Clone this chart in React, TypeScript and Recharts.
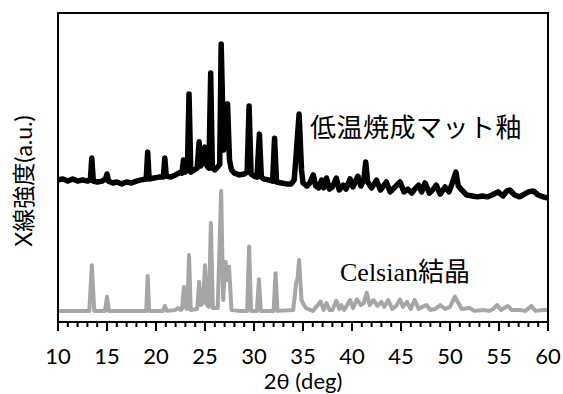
import { LineChart, Line, XAxis, YAxis } from 'recharts'

// 2θ (deg), intensity (a.u.)
const glazePattern: [number, number][] = [
  [10.0, 46.0], [10.5, 46.3], [11.0, 45.6], [11.5, 46.3], [12.0, 45.6], [12.5, 46.0],
  [13.0, 45.6], [13.3, 46.0], [13.45, 53.1], [13.6, 45.6], [14.0, 45.3], [14.5, 45.6],
  [14.85, 46.3], [15.0, 47.9], [15.15, 45.6], [15.6, 45.0], [16.0, 45.3], [16.5, 44.7],
  [17.0, 45.3], [17.5, 45.0], [18.0, 45.6], [18.5, 46.0], [19.0, 46.3], [19.15, 55.0],
  [19.3, 46.3], [19.8, 46.6], [20.3, 46.9], [20.75, 46.9], [20.9, 53.1], [21.05, 47.2],
  [21.5, 46.9], [22.0, 47.6], [22.5, 48.5], [22.65, 48.2], [22.8, 52.4], [22.95, 48.5],
  [23.2, 49.2], [23.37, 73.8], [23.55, 48.5], [23.9, 49.2], [24.2, 49.8], [24.4, 58.3],
  [24.55, 50.5], [24.8, 51.8], [25.0, 56.6], [25.2, 50.5], [25.4, 49.8], [25.58, 80.6],
  [25.75, 49.8], [26.0, 49.2], [26.3, 50.2], [26.5, 51.0], [26.65, 90.0], [26.9, 55.7],
  [27.05, 69.3], [27.3, 70.6], [27.5, 52.4], [27.7, 49.2], [28.0, 48.2], [28.5, 47.6],
  [29.0, 47.9], [29.3, 48.5], [29.5, 69.9], [29.7, 47.9], [30.0, 47.2], [30.3, 46.9],
  [30.55, 60.8], [30.75, 46.9], [31.0, 46.3], [31.5, 46.0], [31.9, 45.6], [32.1, 59.5],
  [32.3, 45.3], [32.8, 45.0], [33.3, 44.7], [33.8, 44.7], [34.1, 46.0], [34.3, 54.0],
  [34.6, 67.3], [34.85, 49.2], [35.0, 45.0], [35.4, 44.0], [35.7, 45.0], [36.05, 47.6],
  [36.3, 44.0], [36.6, 43.4], [36.9, 45.9], [37.1, 43.4], [37.4, 46.6], [37.7, 43.0],
  [38.0, 43.7], [38.4, 46.6], [38.7, 42.7], [39.1, 44.3], [39.4, 43.0], [39.8, 46.3],
  [40.1, 43.7], [40.6, 47.2], [40.9, 44.0], [41.2, 45.9], [41.4, 51.8], [41.6, 45.3],
  [42.0, 43.4], [42.5, 45.9], [42.9, 42.7], [43.2, 44.0], [43.5, 45.3], [43.9, 42.1],
  [44.3, 43.4], [44.9, 45.3], [45.3, 42.1], [45.7, 43.0], [46.1, 41.7], [46.4, 43.0],
  [46.8, 44.3], [47.1, 42.1], [47.45, 45.0], [47.9, 41.7], [48.3, 43.0], [48.6, 44.3],
  [49.0, 41.4], [49.5, 43.7], [49.9, 42.1], [50.2, 44.7], [50.6, 48.5], [50.85, 44.0],
  [51.2, 42.7], [51.7, 41.1], [52.3, 40.8], [52.8, 40.5], [53.3, 40.8], [53.8, 40.5],
  [54.3, 41.1], [54.9, 42.1], [55.4, 40.8], [55.8, 42.4], [56.1, 42.7], [56.6, 41.1],
  [57.1, 40.5], [57.6, 41.4], [58.0, 42.1], [58.5, 42.4], [59.0, 41.1], [59.5, 40.5],
  [60.0, 40.1],
]

const celsianPattern: [number, number][] = [
  [10.0, 3.6], [13.2, 3.6], [13.45, 18.4], [13.7, 3.6], [14.8, 3.6], [15.0, 8.2],
  [15.2, 3.6], [19.0, 3.6], [19.15, 14.9], [19.3, 3.6], [20.7, 3.6], [20.9, 5.2],
  [21.1, 3.6], [22.0, 3.9], [22.25, 4.5], [22.5, 3.9], [22.65, 4.2], [22.85, 11.3],
  [23.05, 4.5], [23.2, 4.2], [23.37, 21.7], [23.55, 3.9], [24.2, 4.2], [24.4, 13.0],
  [24.6, 5.5], [24.8, 6.1], [25.0, 18.4], [25.2, 5.5], [25.4, 4.9], [25.6, 32.0],
  [25.8, 4.5], [26.3, 4.5], [26.65, 42.4], [26.85, 7.1], [27.1, 19.5], [27.28, 13.6],
  [27.45, 17.9], [27.7, 3.9], [28.5, 3.6], [29.3, 3.6], [29.5, 24.4], [29.7, 3.6],
  [30.3, 3.6], [30.5, 13.8], [30.7, 3.6], [32.0, 3.6], [32.2, 15.8], [32.4, 3.6],
  [34.0, 3.9], [34.3, 12.6], [34.45, 14.2], [34.6, 20.1], [34.85, 7.1], [35.0, 6.1],
  [35.3, 4.5], [36.0, 3.6], [36.8, 6.6], [37.1, 3.9], [37.4, 6.1], [37.7, 3.9],
  [38.0, 3.9], [38.4, 6.9], [38.7, 4.2], [38.9, 5.5], [39.2, 3.9], [39.8, 7.1],
  [40.1, 4.5], [40.5, 7.3], [40.9, 5.5], [41.2, 6.1], [41.5, 9.5], [41.8, 5.5],
  [42.2, 7.1], [42.6, 5.2], [43.0, 6.5], [43.3, 4.9], [43.7, 7.1], [44.1, 4.2],
  [44.5, 5.2], [44.9, 7.3], [45.2, 4.9], [45.6, 6.5], [46.0, 4.2], [46.4, 7.1],
  [46.8, 4.2], [47.2, 4.9], [47.6, 5.5], [48.0, 3.9], [48.5, 4.2], [49.0, 5.5],
  [49.5, 4.2], [50.0, 4.9], [50.5, 8.2], [50.8, 6.5], [51.2, 4.2], [52.0, 4.5],
  [52.5, 3.6], [53.4, 3.9], [54.0, 3.6], [54.4, 4.2], [54.8, 5.5], [55.2, 3.9],
  [55.9, 5.2], [56.3, 3.9], [57.1, 3.9], [57.7, 3.6], [58.3, 5.2], [58.7, 3.6],
  [59.5, 3.9], [60.0, 3.9],
]

const majorTicks = [10, 15, 20, 25, 30, 35, 40, 45, 50, 55, 60]
const allTicks = Array.from({ length: 51 }, (_, i) => 10 + i)

const glazeData = glazePattern.map(([theta, intensity]) => ({ theta, intensity }))
const celsianData = celsianPattern.map(([theta, intensity]) => ({ theta, intensity }))

const SANS = 'Lato, "Noto Sans", sans-serif'

function AxisTick(props: any) {
  const { x, y, payload } = props
  const major = majorTicks.includes(payload.value)
  return (
    <g>
      <line x1={x} x2={x} y1={y} y2={y + (major ? 9 : 5)} stroke="#000" strokeWidth={2} />
      {major && (
        <text x={x} y={y + 42} textAnchor="middle" fontSize={22} fontFamily={SANS} fill="#000">
          {payload.value}
        </text>
      )}
    </g>
  )
}

export default function App() {
  return (
    <div style={{ position: 'absolute', left: 0, top: 0, width: 563, height: 394, background: '#fff' }}>
      <LineChart width={563} height={394} margin={{ top: 13, right: 15, bottom: 0, left: 58 }}>
        <XAxis
          dataKey="theta"
          type="number"
          domain={[10, 60]}
          ticks={allTicks}
          interval={0}
          allowDataOverflow
          height={72}
          tickLine={false}
          tickSize={0}
          tickMargin={0}
          tick={<AxisTick />}
          stroke="#000"
          strokeWidth={2}
          label={{ value: '2θ (deg)', position: 'insideBottom', offset: 5, fontSize: 22, fontFamily: SANS, fill: '#000' }}
        />
        <YAxis hide type="number" domain={[0, 100]} allowDataOverflow />
        <Line data={celsianData} dataKey="intensity" type="linear" stroke="#a6a6a6" strokeWidth={4}
          dot={false} isAnimationActive={false} strokeLinejoin="round" />
        <Line data={glazeData} dataKey="intensity" type="linear" stroke="#000" strokeWidth={5.5}
          dot={false} isAnimationActive={false} strokeLinejoin="round" />
      </LineChart>
      <svg width={563} height={394} style={{ position: 'absolute', left: 0, top: 0, pointerEvents: 'none' }}>
        {/* plot frame */}
        <rect x={58} y={13} width={490} height={309} fill="none" stroke="#000" strokeWidth={2} />
        <text x={23} y={181} transform="rotate(-90 23 181)" textAnchor="middle" dominantBaseline="central"
          fontSize={23} fontFamily={'Lato, "Noto Sans CJK JP", sans-serif'} fill="#000">
          X線強度(a.u.)
        </text>
        <text x={310} y={137} fontSize={26} letterSpacing={0.5}
          fontFamily={'"Liberation Serif", "Noto Sans CJK JP", serif'} fill="#000">
          低温焼成マット釉
        </text>
        <text x={340} y={281} fontSize={26}
          fontFamily={'"Liberation Serif", "Noto Sans CJK JP", serif'} fill="#000">
          Celsian結晶
        </text>
      </svg>
    </div>
  )
}
